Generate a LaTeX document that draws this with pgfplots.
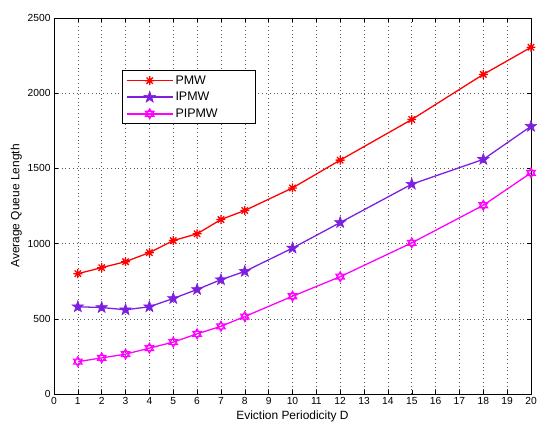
\documentclass[border=0pt]{standalone}
\usepackage{pgfplots}
\pgfplotsset{compat=1.18}
\usepackage{fontspec}
\setmainfont{Liberation Sans}
\definecolor{mpurple}{rgb}{0.49,0.12,0.88}
\definecolor{mmag}{rgb}{1,0,1}
\pgfdeclareplotmark{ast8}{%
  \pgfpathmoveto{\pgfpointpolar{0}{\pgfplotmarksize}}\pgfpathlineto{\pgfpointpolar{180}{\pgfplotmarksize}}%
  \pgfpathmoveto{\pgfpointpolar{90}{\pgfplotmarksize}}\pgfpathlineto{\pgfpointpolar{270}{\pgfplotmarksize}}%
  \pgfpathmoveto{\pgfpointpolar{45}{\pgfplotmarksize}}\pgfpathlineto{\pgfpointpolar{225}{\pgfplotmarksize}}%
  \pgfpathmoveto{\pgfpointpolar{135}{\pgfplotmarksize}}\pgfpathlineto{\pgfpointpolar{315}{\pgfplotmarksize}}%
  \pgfusepathqstroke}
\pgfdeclareplotmark{pent*}{%
  \pgfpathmoveto{\pgfpointpolar{90}{\pgfplotmarksize}}%
  \pgfpathlineto{\pgfpointpolar{126}{0.4\pgfplotmarksize}}%
  \pgfpathlineto{\pgfpointpolar{162}{\pgfplotmarksize}}%
  \pgfpathlineto{\pgfpointpolar{198}{0.4\pgfplotmarksize}}%
  \pgfpathlineto{\pgfpointpolar{234}{\pgfplotmarksize}}%
  \pgfpathlineto{\pgfpointpolar{270}{0.4\pgfplotmarksize}}%
  \pgfpathlineto{\pgfpointpolar{306}{\pgfplotmarksize}}%
  \pgfpathlineto{\pgfpointpolar{342}{0.4\pgfplotmarksize}}%
  \pgfpathlineto{\pgfpointpolar{18}{\pgfplotmarksize}}%
  \pgfpathlineto{\pgfpointpolar{54}{0.4\pgfplotmarksize}}%
  \pgfpathclose\pgfusepathqfillstroke}
\pgfdeclareplotmark{hexa}{%
  \pgfpathmoveto{\pgfpointpolar{90}{\pgfplotmarksize}}%
  \pgfpathlineto{\pgfpointpolar{210}{\pgfplotmarksize}}%
  \pgfpathlineto{\pgfpointpolar{330}{\pgfplotmarksize}}%
  \pgfpathclose
  \pgfpathmoveto{\pgfpointpolar{270}{\pgfplotmarksize}}%
  \pgfpathlineto{\pgfpointpolar{30}{\pgfplotmarksize}}%
  \pgfpathlineto{\pgfpointpolar{150}{\pgfplotmarksize}}%
  \pgfpathclose
  \pgfusepathqstroke}
\begin{document}
\begin{tikzpicture}
\path[use as bounding box] (-54bp,-30bp) rectangle (483bp,394bp);
\begin{axis}[
  scale only axis, width=477bp, height=376bp,
  at={(0,0)}, anchor=south west,
  xmin=0, xmax=20, ymin=0, ymax=2500,
  xtick={0,1,...,20}, ytick={0,500,...,2500},
  tick align=inside, major tick length=4bp,
  grid=major, major grid style={dash pattern=on 0.8pt off 3pt, black!65, line width=0.6pt},
  axis line style={line width=0.8pt},
  tick style={black, line width=0.5pt},
  ticklabel style={font=\fontsize{10.3}{11}\selectfont},
  /pgf/number format/assume math mode=true,
  /pgf/number format/1000 sep={},
  label style={font=\fontsize{12}{13}\selectfont},
  xlabel={Eviction Periodicity D},
  ylabel={Average Queue Length},
  xlabel style={yshift=1bp},
  ylabel style={yshift=-1bp},
  legend style={at={(rel axis cs:0.1426,0.861)}, anchor=north west,
    font=\fontsize{12.5}{13}\selectfont, draw=black, line width=0.8pt,
    inner xsep=3.5bp, inner ysep=3bp, row sep=2.5bp},
  legend cell align=left,
  legend image code/.code={\draw[mark repeat=2,mark phase=2,line width=1.6pt] plot coordinates {(0bp,0bp) (23bp,0bp) (46bp,0bp)};},
  every axis plot/.append style={line width=1.3pt},
]
\addplot[red, mark=ast8, mark size=4.5pt, mark options={line width=1.3pt}] coordinates {
(1,800)(2,840)(3,880)(4,940)(5,1020)(6,1065)(7,1160)(8,1220)(10,1370)(12,1555)(15,1825)(18,2125)(20,2305)};
\addlegendentry{PMW}
\addplot[mpurple, mark=pent*, mark size=6pt, mark options={line width=0.6pt, fill=mpurple}] coordinates {
(1,580)(2,575)(3,560)(4,580)(5,635)(6,695)(7,760)(8,815)(10,970)(12,1140)(15,1395)(18,1560)(20,1780)};
\addlegendentry{IPMW}
\addplot[mmag, mark=hexa, mark size=5pt, mark options={line width=1.1pt}] coordinates {
(1,215)(2,240)(3,265)(4,305)(5,345)(6,400)(7,450)(8,515)(10,650)(12,780)(15,1005)(18,1255)(20,1470)};
\addlegendentry{PIPMW\hspace*{32bp}}
\end{axis}
\end{tikzpicture}
\end{document}
